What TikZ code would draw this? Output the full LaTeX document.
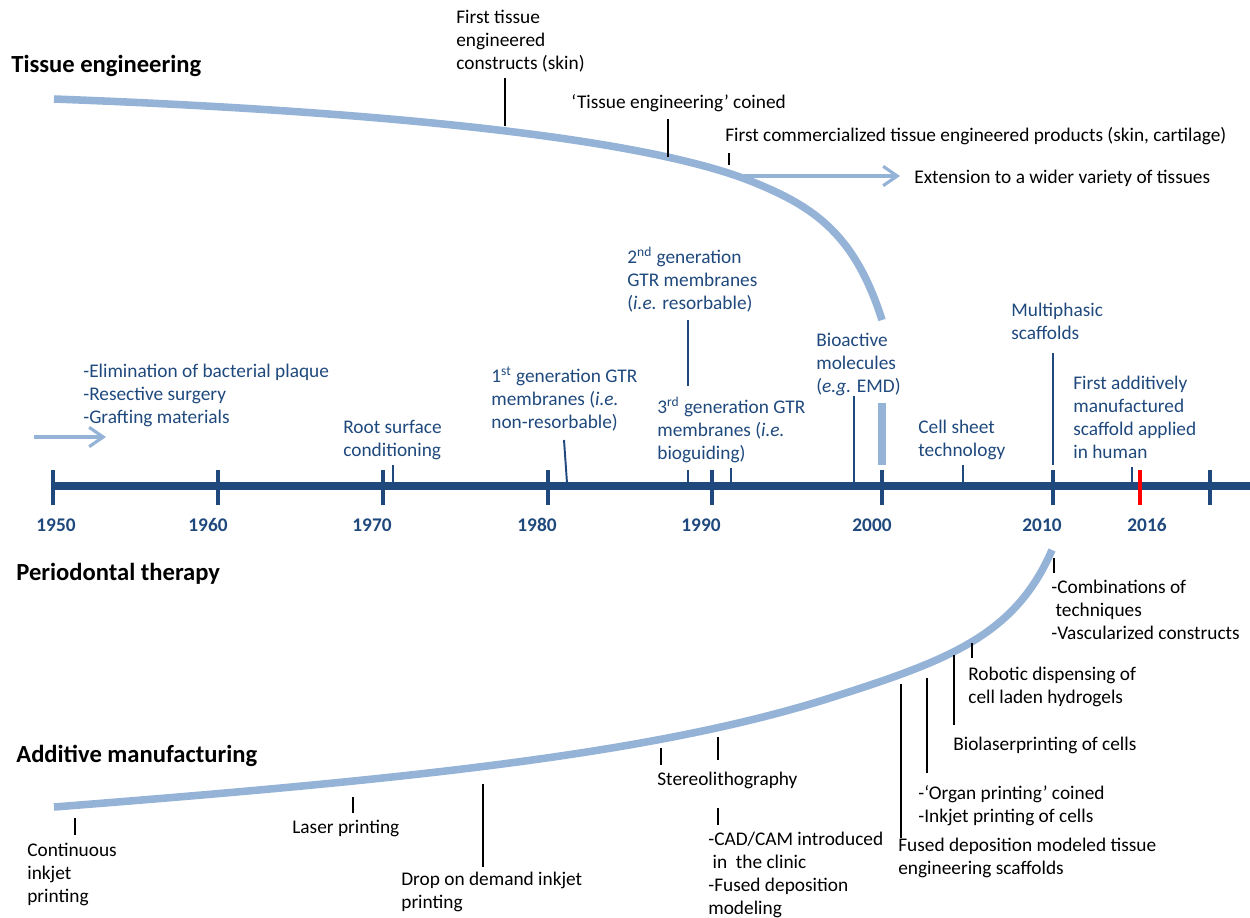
\documentclass[tikz,border=0pt]{standalone}
\usepackage{fontspec}
\setmainfont{Carlito}
\usepackage{tikz}
\usetikzlibrary{arrows.meta}

\definecolor{pdblue}{RGB}{31,73,125}
\definecolor{trendblue}{RGB}{149,179,215}

\tikzset{
	lbl/.style = {anchor = base west, align = left, inner sep = 0pt, font = \fontsize{11}{13}\selectfont},
	plbl/.style = {lbl, text = pdblue},
	ttl/.style = {anchor = base west, inner sep = 0pt, font = \fontsize{14}{17}\selectfont\bfseries},
	yr/.style = {anchor = base, inner sep = 0pt, text = pdblue, font = \fontsize{11}{13}\selectfont\bfseries},
	trend/.style = {draw = trendblue, line width = 4.3pt},
	trendarrow/.style = {draw = trendblue, line width = 1.8pt, -{Straight Barb[length = 8pt, width = 11pt]}},
	bigpin/.style = {line width = 1.4pt},
	smallpin/.style = {line width = 0.7pt},
	ppin/.style = {draw = pdblue, line width = 1.1pt},
	psmallpin/.style = {draw = pdblue, line width = 0.7pt}
}

\begin{document}
\begin{tikzpicture}[x = 0.02cm, y = -0.02cm]
	\useasboundingbox (0,0) rectangle (1250,917);

	% tissue engineering (multi-line labels sit on their last baseline)
	\node [ttl] (te) at (11,72) {Tissue engineering};
	\draw [trend] (54,99) .. controls (400,112) and (650,140) .. (753,182) .. controls (815,207) and (855,235) .. (882,320);
	\draw [trend, line width = 5pt] (882,403) -- (882,465);
	\node [lbl] (teskin) at (456,69) {First tissue\\engineered\\constructs (skin)};
	\node [lbl] (tecoined) at (571,108) {`Tissue engineering' coined};
	\node [lbl] (teproducts) at (725,141) {First commercialized tissue engineered products (skin, cartilage)};
	\node [lbl] (tewider) at (914,183) {Extension to a wider variety of tissues};
	\draw [bigpin] (505,78) -- (505,126);
	\draw [bigpin] (668,119) -- (668,157);
	\draw [smallpin] (729,153) -- (729,165);
	\draw [trendarrow] (744,176) -- (900,176);

	% periodontal therapy
	\draw [trendarrow] (34,437) -- (106,437);
	\node [plbl] (ptplaque) at (83,423) {-Elimination of bacterial plaque\\-Resective surgery\\-Grafting materials};
	\node [plbl] (ptroot) at (343,456) {Root surface\\conditioning};
	\node [plbl] (ptfirst) at (491,428) {1\textsuperscript{st} generation GTR\\membranes (\textit{i.e.}\\non-resorbable)};
	\node [plbl] (ptsecond) at (627,309) {2\textsuperscript{nd} generation\\GTR membranes\\(\textit{i.e.} resorbable)};
	\node [plbl] (ptthird) at (657,459) {3\textsuperscript{rd} generation GTR\\membranes (\textit{i.e.}\\bioguiding)};
	\node [plbl] (ptbio) at (816,392) {Bioactive\\molecules\\(\textit{e.g.} EMD)};
	\node [plbl] (ptcell) at (918,456) {Cell sheet\\technology};
	\node [plbl] (ptmulti) at (1011,339) {Multiphasic\\scaffolds};
	\node [plbl] (pthuman) at (1073,458) {First additively\\manufactured\\scaffold applied\\in human};
	\draw [psmallpin] (393,465) -- (393,483);
	\draw [ppin] (564,440) -- (567,483);
	\draw [ppin] (688,320) -- (688,386);
	\draw [psmallpin] (688,470) -- (688,483);
	\draw [psmallpin] (731,468) -- (731,483);
	\draw [ppin] (854,396) -- (854,483);
	\draw [psmallpin] (963,465) -- (963,483);
	\draw [ppin] (1053,353) -- (1053,465);
	\draw [psmallpin] (1132,467) -- (1132,483);

	\draw [draw = pdblue, line width = 4.5pt] (53,486) -- (1250,486);
	\foreach \x in {53,218,383,548,712,882,1053,1210}
		\draw [draw = pdblue, line width = 2.8pt] (\x,470) -- (\x,505);
	\draw [red, line width = 2.8pt] (1140,470) -- (1140,505);
	\foreach \yr/\x in {1950/56,1960/208,1970/372,1980/537,1990/701,2000/872,2010/1042,2016/1147}
		\node [yr] (y\yr) at (\x,531) {\yr};
	\node [ttl] (pt) at (16,580) {Periodontal therapy};

	% additive manufacturing
	\node [ttl] (am) at (16,762) {Additive manufacturing};
	\draw [trend] (54,807) .. controls (400,780) and (650,755) .. (830,698) .. controls (950,660) and (1015,635) .. (1052,550);
	\node [lbl] (amcont) at (27,902) {Continuous\\inkjet\\printing};
	\node [lbl] (amlaser) at (292,833) {Laser printing};
	\node [lbl] (amdrop) at (401,908) {Drop on demand inkjet\\printing};
	\node [lbl] (amstereo) at (657,785) {Stereolithography};
	\node [lbl] (amcad) at (708,914) {-CAD/CAM introduced\\\hspace*{0.22em}in\ \ the clinic\\-Fused deposition\\modeling};
	\node [lbl] (amfdm) at (898,874) {Fused deposition modeled tissue\\engineering scaffolds};
	\node [lbl] (amorgan) at (918,822) {-`Organ printing' coined\\-Inkjet printing of cells};
	\node [lbl] (amlaserbio) at (953,750) {Biolaserprinting of cells};
	\node [lbl] (amrobot) at (968,703) {Robotic dispensing of\\cell laden hydrogels};
	\node [lbl] (amcomb) at (1051,639) {-Combinations of\\\hspace*{0.22em}techniques\\-Vascularized constructs};
	\draw [smallpin] (75,818) -- (75,835);
	\draw [smallpin] (353,797) -- (353,813);
	\draw [bigpin] (483,784) -- (483,867);
	\draw [smallpin] (661,748) -- (661,765);
	\draw [bigpin] (718,737) -- (718,760);
	\draw [bigpin] (718,808) -- (718,825);
	\draw [bigpin] (901,684) -- (901,838);
	\draw [bigpin] (927,678) -- (927,773);
	\draw [bigpin] (954,655) -- (954,725);
	\draw [smallpin] (972,643) -- (972,658);
	\draw [smallpin] (1054,558) -- (1054,573);
\end{tikzpicture}
\end{document}
